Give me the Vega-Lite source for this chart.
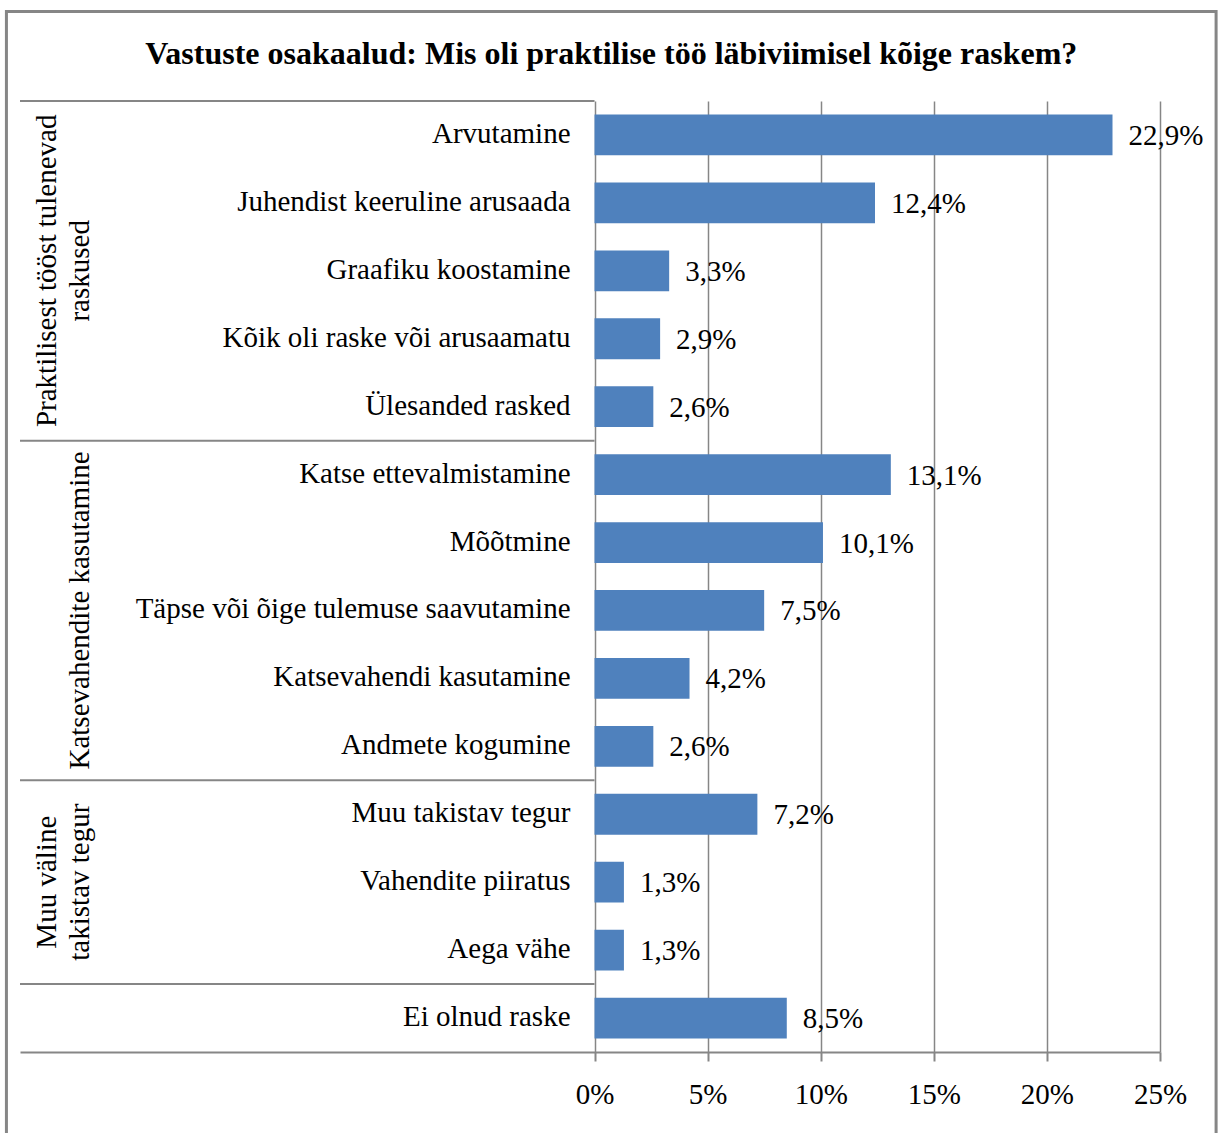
{
  "$schema": "https://vega.github.io/schema/vega-lite/v6.json",
  "autosize": {"type": "none"},
  "padding": {"left": 20, "top": 101, "right": 58, "bottom": 81},
  "width": 1140,
  "height": 951,
  "background": "white",
  "config": {
    "view": {"stroke": null},
    "font": "Liberation Serif",
    "locale": {"number": {"decimal": ",", "thousands": " ", "grouping": [3], "currency": ["", " €"]}}
  },
  "title": {
    "text": "Vastuste osakaalud: Mis oli praktilise töö läbiviimisel kõige raskem?",
    "font": "Liberation Serif",
    "fontSize": 32,
    "fontWeight": "bold",
    "color": "black",
    "anchor": "middle",
    "frame": "bounds",
    "offset": -61
  },
  "datasets": {
    "rows": [
      {"cat": "Arvutamine", "value": 0.229},
      {"cat": "Juhendist keeruline arusaada", "value": 0.124},
      {"cat": "Graafiku koostamine", "value": 0.033},
      {"cat": "Kõik oli raske või arusaamatu", "value": 0.029},
      {"cat": "Ülesanded rasked", "value": 0.026},
      {"cat": "Katse ettevalmistamine", "value": 0.131},
      {"cat": "Mõõtmine", "value": 0.101},
      {"cat": "Täpse või õige tulemuse saavutamine", "value": 0.075},
      {"cat": "Katsevahendi kasutamine", "value": 0.042},
      {"cat": "Andmete kogumine", "value": 0.026},
      {"cat": "Muu takistav tegur", "value": 0.072},
      {"cat": "Vahendite piiratus", "value": 0.013},
      {"cat": "Aega vähe", "value": 0.013},
      {"cat": "Ei olnud raske", "value": 0.085}
    ],
    "groups": [
      {"line1": "Praktilisest tööst tulenevad", "line2": "raskused", "first": "Arvutamine", "mid": "Graafiku koostamine"},
      {"line1": "", "line2": "Katsevahendite kasutamine", "first": "Katse ettevalmistamine", "mid": "Täpse või õige tulemuse saavutamine"},
      {"line1": "Muu väline", "line2": "takistav tegur", "first": "Muu takistav tegur", "mid": "Vahendite piiratus"},
      {"line1": "", "line2": "", "first": "Ei olnud raske", "mid": "Ei olnud raske"}
    ]
  },
  "resolve": {"scale": {"y": "independent"}},
  "layer": [
    {
      "data": {"values": [{}]},
      "mark": {"type": "rect", "fill": null, "stroke": "#868686", "strokeWidth": 3, "clip": false},
      "encoding": {
        "x": {"datum": -0.2600, "type": "quantitative", "scale": {"domain": [-0.254, 0.25], "nice": false, "zero": false}, "axis": {
          "values": [0, 0.05, 0.1, 0.15, 0.2, 0.25],
          "format": ".0%",
          "title": null,
          "grid": true,
          "gridColor": "#868686",
          "gridWidth": 1.5,
          "tickColor": "#868686",
          "tickWidth": 2,
          "tickSize": 9,
          "domainColor": "#868686",
          "domainWidth": 2,
          "labelFont": "Liberation Serif",
          "labelFontSize": 29,
          "labelColor": "black",
          "labelPadding": 19,
          "labelFlush": false,
          "labelOverlap": false
        }},
        "x2": {"datum": 0.2748},
        "y": {"datum": 1.0941, "type": "quantitative", "scale": {"domain": [0, 1], "nice": false, "zero": false}, "axis": null},
        "y2": {"datum": -0.0925}
      }
    },
    {
      "layer": [
        {
          "data": {"name": "rows"},
          "mark": {"type": "bar", "color": "#4F81BD", "height": {"band": 0.6}},
          "encoding": {
            "y": {"field": "cat", "type": "nominal", "sort": null, "axis": null, "scale": {"paddingInner": 0, "paddingOuter": 0}},
            "x": {"field": "value", "type": "quantitative"},
            "x2": {"datum": 0}
          }
        },
        {
          "data": {"name": "rows"},
          "mark": {"type": "text", "align": "left", "baseline": "middle", "dx": 16, "dy": 1, "fontSize": 29, "font": "Liberation Serif", "color": "black"},
          "encoding": {
            "y": {"field": "cat", "type": "nominal", "sort": null},
            "x": {"field": "value", "type": "quantitative"},
            "text": {"field": "value", "type": "quantitative", "format": ".1%"}
          }
        },
        {
          "data": {"name": "rows"},
          "mark": {"type": "text", "align": "right", "baseline": "middle", "dx": -24, "dy": -1, "fontSize": 29, "font": "Liberation Serif", "color": "black"},
          "encoding": {
            "y": {"field": "cat", "type": "nominal", "sort": null},
            "x": {"datum": 0, "type": "quantitative"},
            "text": {"field": "cat"}
          }
        },
        {
          "data": {"name": "groups"},
          "mark": {"type": "rule", "color": "#868686", "strokeWidth": 2},
          "encoding": {
            "y": {"field": "first", "type": "nominal", "sort": null, "bandPosition": 0},
            "x": {"datum": -0.254, "type": "quantitative"},
            "x2": {"datum": 0}
          }
        },
        {
          "data": {"name": "groups"},
          "mark": {"type": "text", "angle": 270, "align": "center", "baseline": "bottom", "fontSize": 29, "font": "Liberation Serif", "color": "black"},
          "encoding": {
            "y": {"field": "mid", "type": "nominal", "sort": null},
            "x": {"datum": -0.2210, "type": "quantitative"},
            "text": {"field": "line2"}
          }
        },
        {
          "data": {"name": "groups"},
          "mark": {"type": "text", "angle": 270, "align": "center", "baseline": "bottom", "fontSize": 29, "font": "Liberation Serif", "color": "black"},
          "encoding": {
            "y": {"field": "mid", "type": "nominal", "sort": null},
            "x": {"datum": -0.2356, "type": "quantitative"},
            "text": {"field": "line1"}
          }
        }
      ]
    }
  ]
}
